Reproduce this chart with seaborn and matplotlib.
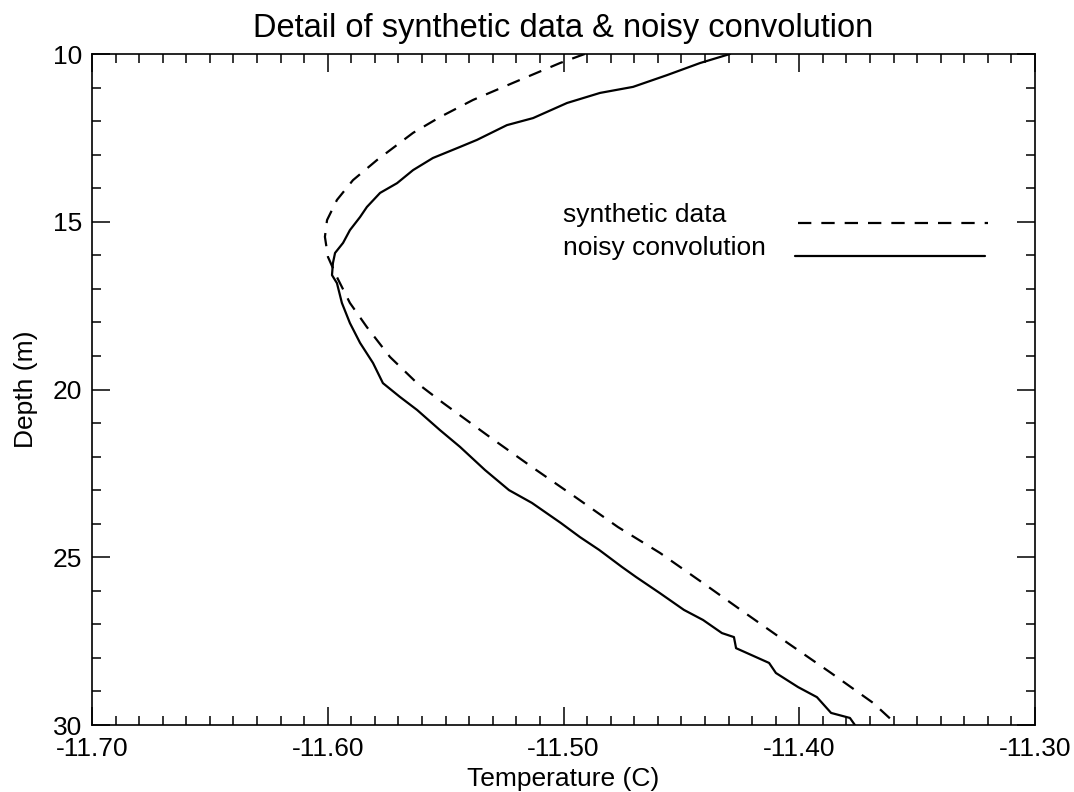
import matplotlib
matplotlib.use("Agg")
import matplotlib.pyplot as plt
from matplotlib.ticker import MultipleLocator, FormatStrFormatter
from matplotlib.lines import Line2D
from matplotlib.legend_handler import HandlerLine2D
import numpy as np
import seaborn as sns
import pandas as pd

# ---- data ----
synth_depth = [10.0, 10.27, 10.86, 11.37, 11.88, 12.35, 13.16, 13.76, 14.35, 14.95,
               15.45, 16.05, 16.65, 17.42, 18.14, 19.03, 19.81, 20.40, 21.42, 22.31,
               23.20, 24.10, 24.87, 25.77, 26.66, 27.56, 28.45, 29.34, 30.0]
synth_temp = [-11.491, -11.5015, -11.5214, -11.5384, -11.5524, -11.5638, -11.5791,
              -11.5893, -11.5961, -11.6003, -11.6012, -11.5999, -11.5961, -11.5906,
              -11.5834, -11.5736, -11.5621, -11.5511, -11.5312, -11.5134, -11.4951,
              -11.4769, -11.4591, -11.4408, -11.4230, -11.4048, -11.3865, -11.3687,
              -11.3585]

noisy_depth = [10.0, 10.27, 10.63, 10.98, 11.16, 11.46, 11.91, 12.12, 12.56, 12.77,
               13.10, 13.46, 13.85, 14.14, 14.56, 14.86, 15.25, 15.63, 15.93, 16.23,
               16.59, 16.83, 17.42, 18.02, 18.61, 19.21, 19.81, 20.22, 20.61, 21.21,
               21.71, 22.40, 23.00, 23.38, 23.98, 24.40, 24.78, 25.29, 25.59, 26.07,
               26.57, 26.87, 27.26, 27.38, 27.71, 28.15, 28.45, 28.87, 29.17, 29.64,
               29.79, 30.0]
noisy_temp = [-11.4294, -11.4421, -11.4561, -11.4705, -11.4845, -11.4985, -11.5129,
              -11.5240, -11.5367, -11.5439, -11.5554, -11.5638, -11.5706, -11.5778,
              -11.5834, -11.5863, -11.5906, -11.5935, -11.5969, -11.5978, -11.5982,
              -11.5961, -11.5940, -11.5906, -11.5863, -11.5808, -11.5766, -11.5694,
              -11.5621, -11.5524, -11.5439, -11.5333, -11.5231, -11.5134, -11.5011,
              -11.4930, -11.4849, -11.4752, -11.4692, -11.4591, -11.4489, -11.4408,
              -11.4328, -11.4277, -11.4268, -11.4128, -11.4099, -11.4005, -11.3925,
              -11.3865, -11.3785, -11.3764]

series_labels = ["synthetic data", "noisy convolution"]
title_text = "Detail of synthetic data & noisy convolution"
x_label = "Temperature (C)"
y_label = "Depth (m)"

# ---- style ----
sns.set_theme(style="ticks")
plt.rcParams["font.family"] = ["Liberation Sans", "DejaVu Sans"]
plt.rcParams["axes.unicode_minus"] = False
plt.rcParams["text.color"] = "black"
plt.rcParams["axes.labelcolor"] = "black"
plt.rcParams["legend.labelcolor"] = "black"

LW = 1.6
DASH = (6, 4.5)

fig = plt.figure(figsize=(10.74, 7.92), dpi=100)
ax = fig.add_axes([92 / 1074, 1 - 725 / 792, 943 / 1074, 671 / 792])

df_s = pd.DataFrame({"T": synth_temp, "d": synth_depth})
df_n = pd.DataFrame({"T": noisy_temp, "d": noisy_depth})

sns.lineplot(data=df_s, x="T", y="d", sort=False, estimator=None, ax=ax,
             color="black", linewidth=LW)
sns.lineplot(data=df_n, x="T", y="d", sort=False, estimator=None, ax=ax,
             color="black", linewidth=LW)
ax.lines[0].set_dashes(DASH)

ax.set_xlim(-11.70, -11.30)
ax.set_ylim(30, 10)

ax.xaxis.set_major_locator(MultipleLocator(0.1))
ax.xaxis.set_minor_locator(MultipleLocator(0.01))
ax.yaxis.set_major_locator(MultipleLocator(5))
ax.yaxis.set_minor_locator(MultipleLocator(1))
ax.xaxis.set_major_formatter(FormatStrFormatter("%.2f"))
ax.yaxis.set_major_formatter(FormatStrFormatter("%d"))

ax.tick_params(which="both", direction="in", top=True, right=True,
               colors="black", labelsize=19, width=1.1)
ax.tick_params(axis="x", which="major", length=13, pad=9)
ax.tick_params(axis="y", which="major", length=13, pad=7)
ax.tick_params(which="minor", length=6.5)
for sp in ax.spines.values():
    sp.set_visible(True)
    sp.set_linewidth(1.2)
    sp.set_color("black")

ax.set_title(title_text, fontsize=23.5, pad=12, color="black")
ax.set_xlabel(x_label, fontsize=19, labelpad=4, color="black")
ax.set_ylabel(y_label, fontsize=19, labelpad=11, color="black")


class BaselineLine(HandlerLine2D):
    """Legend sample line drawn at the text baseline, as in the reference."""
    def create_artists(self, legend, orig_handle, xdescent, ydescent, width,
                       height, fontsize, trans):
        arts = super().create_artists(legend, orig_handle, xdescent, ydescent,
                                      width, height, fontsize, trans)
        for a in arts:
            a.set_ydata(np.asarray(a.get_ydata(), dtype=float) - 0.38 * fontsize)
        return arts


h_dash = Line2D([], [], color="black", linewidth=LW, dashes=DASH)
h_solid = Line2D([], [], color="black", linewidth=LW)
common = dict(markerfirst=False, handlelength=7.2, frameon=False, loc="center left",
              borderpad=0, borderaxespad=0, fontsize=19, labelcolor="black",
              handler_map={Line2D: BaselineLine()})
leg1 = ax.legend([h_dash], [series_labels[0]], handletextpad=2.7,
                 bbox_to_anchor=(0.4995, 0.7600), **common)
ax.add_artist(leg1)
leg2 = ax.legend([h_solid], [series_labels[1]], handletextpad=1.1,
                 bbox_to_anchor=(0.4995, 0.7110), **common)

fig.savefig("out.png", dpi=100, facecolor="white")
